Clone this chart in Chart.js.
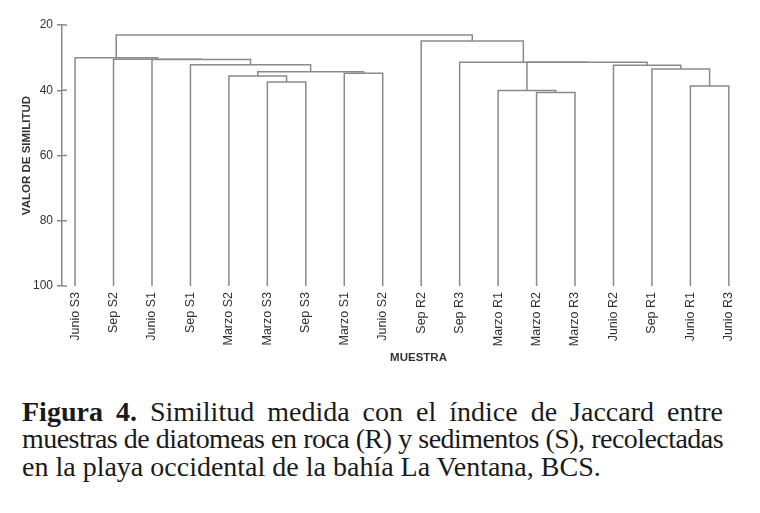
<!DOCTYPE html>
<html>
<head>
<meta charset="utf-8">
<script src="https://cdn.jsdelivr.net/npm/chart.js@4.4.0/dist/chart.umd.min.js"></script>
<style>
  html, body { margin: 0; padding: 0; background: #fff; overflow: hidden; width: 760px; height: 513px; }
  #wrap { position: absolute; left: 0; top: 0; width: 790px; height: 372px; }
  #caption { position: absolute; left: 22px; top: 398px; width: 701px; font-family: "Liberation Serif", "Times New Roman", serif; font-size: 28px; line-height: 27.3px; color: #1a1a1a; }
  .just { text-align: justify; text-align-last: justify; }
</style>
</head>
<body>
<div id="wrap"><canvas id="dendro"></canvas></div>
<div id="caption">
  <div class="just"><b>Figura 4.</b> Similitud medida con el índice de Jaccard entre</div>
  <div class="just" style="letter-spacing:-0.55px">muestras de diatomeas en roca (R) y sedimentos (S), recolectadas</div>
  <div>en la playa occidental de la bahía La Ventana, BCS.</div>
</div>
<script>
// muestras en el orden del dendrograma
const leaves = ['Junio S3', 'Sep S2', 'Junio S1', 'Sep S1', 'Marzo S2', 'Marzo S3', 'Sep S3', 'Marzo S1', 'Junio S2',
                'Sep R2', 'Sep R3', 'Marzo R1', 'Marzo R2', 'Marzo R3', 'Junio R2', 'Sep R1', 'Junio R1', 'Junio R3'];
// uniones tipo hclust: negativo = muestra (1..n), positivo = union anterior (1..)
const mergeLeft   = [-13, -12, -17, -6, -5, -8, 5, -16, -15, -4, 2, -11, -3, -2, -1, -10, 15];
const mergeRight  = [-14, 1, -18, -7, 4, -9, 6, 3, 8, 7, 9, 11, 10, 13, 14, 12, 16];
const mergeHeight = [40.7, 40.1, 38.7, 37.5, 35.6, 34.8, 34.3, 33.5, 32.3, 32.2, 31.45, 31.4, 30.55, 30.5, 30.0, 24.9, 23.05];
const yTicks = [20, 40, 60, 80, 100];

const LINE = '#8a8a8a';
const TEXT = '#333';
const SANS = '"Liberation Sans", Arial, sans-serif';

// posicion de cada nodo: las muestras en su indice, las uniones en el punto medio
const nodeX = [];
function node(i) {
  return i < 0 ? { x: -i - 1, y: 100 } : { x: nodeX[i - 1], y: mergeHeight[i - 1] };
}
const datasets = mergeHeight.map((h, k) => {
  const a = node(mergeLeft[k]);
  const b = node(mergeRight[k]);
  nodeX[k] = (a.x + b.x) / 2;
  return {
    data: [{ x: a.x, y: a.y }, { x: a.x, y: h }, { x: b.x, y: h }, { x: b.x, y: b.y }],
    borderColor: LINE,
    borderWidth: 1.5,
    pointRadius: 0,
    tension: 0,
    fill: false
  };
});

// las marcas del eje y cruzan la linea del eje
const innerTicks = {
  id: 'innerTicks',
  afterDraw(chart) {
    const s = chart.scales.y, ctx = chart.ctx;
    ctx.save();
    ctx.strokeStyle = LINE;
    ctx.lineWidth = 1.5;
    yTicks.forEach(v => {
      const py = s.getPixelForValue(v);
      ctx.beginPath();
      ctx.moveTo(s.right, py);
      ctx.lineTo(s.right + 5, py);
      ctx.stroke();
    });
    ctx.restore();
  }
};

new Chart(document.getElementById('dendro'), {
  type: 'line',
  data: { datasets },
  plugins: [innerTicks],
  options: {
    responsive: true,
    maintainAspectRatio: false,
    animation: false,
    layout: { padding: { top: 25, right: 15, left: 0, bottom: 0 } },
    plugins: { legend: { display: false }, tooltip: { enabled: false } },
    scales: {
      x: {
        type: 'linear',
        min: -0.34,
        max: 18.2,
        afterBuildTicks: s => { s.ticks = leaves.map((_, i) => ({ value: i })); },
        afterFit: s => { s.height = 86; },
        grid: { display: false, drawTicks: false },
        border: { display: false },
        ticks: {
          autoSkip: false, minRotation: 90, maxRotation: 90, padding: 6,
          color: TEXT, font: { family: SANS, size: 12.5 },
          callback: v => leaves[v]
        },
        title: {
          display: true, text: 'MUESTRA', color: TEXT,
          font: { family: SANS, size: 11.5, weight: 'bold' },
          padding: { top: 0, bottom: 7 }
        }
      },
      y: {
        reverse: true,
        min: 20,
        max: 100,
        afterBuildTicks: s => { s.ticks = yTicks.map(v => ({ value: v })); },
        afterFit: s => { s.width = 62; },
        grid: { drawOnChartArea: false, tickLength: 5, color: LINE, lineWidth: 1.5 },
        border: { color: LINE, width: 1.5 },
        ticks: { padding: 4, color: TEXT, font: { family: SANS, size: 12 } },
        title: {
          display: true, text: 'VALOR DE SIMILITUD', color: TEXT,
          font: { family: SANS, size: 11.5, weight: 'bold' },
          padding: { top: 20, bottom: 0 }
        }
      }
    }
  }
});
</script>
</body>
</html>
